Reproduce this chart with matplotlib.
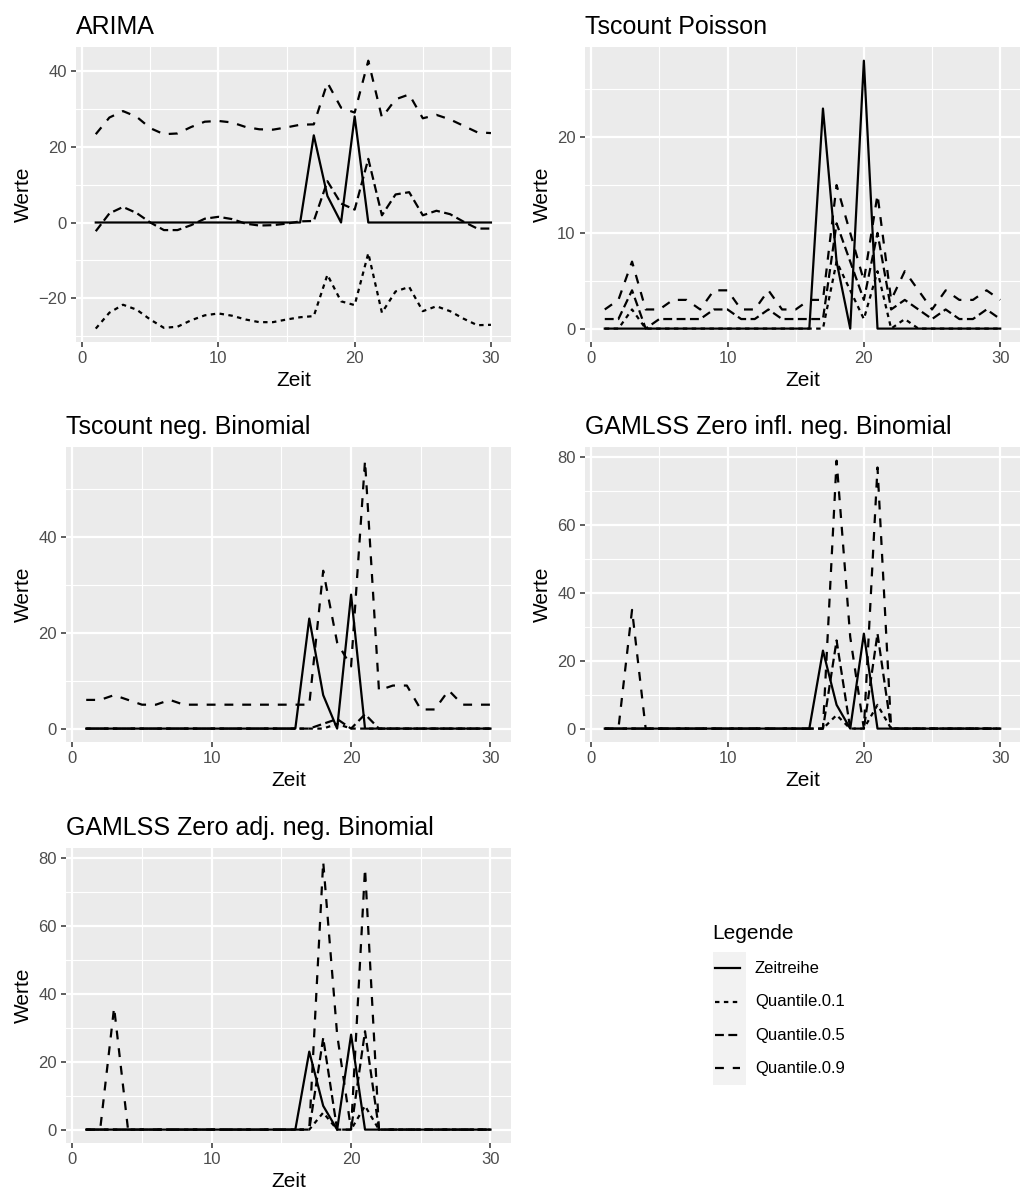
import matplotlib
matplotlib.use("Agg")
import matplotlib.pyplot as plt
from matplotlib.ticker import MultipleLocator

plt.rcParams['font.family'] = ['Liberation Sans', 'DejaVu Sans']

# Daten
zeit = list(range(1, 31))
zeitreihe = [0] * 16 + [23, 7, 0, 28] + [0] * 10

arima_q10 = [-28, -23.8, -21.7, -23, -25.6, -27.8, -27.5, -25.8, -24.5, -24,
             -24.6, -25.6, -26.3, -26.3, -25.6, -25, -24.7, -13.8, -20.8, -21.8,
             -8.1, -23.8, -18.2, -17, -23.4, -22.1, -23.4, -25.4, -27.1, -27]
arima_q50 = [-2.3, 2.4, 4.1, 2.5, 0, -2, -2, -0.7, 1, 1.5,
             0.9, -0.3, -0.8, -0.7, -0.3, 0.3, 0.4, 10.9, 5, 3.4,
             16.8, 1.9, 7.4, 8, 1.9, 3.1, 2.2, 0.2, -1.6, -1.6]
arima_q90 = [23.3, 27.7, 29.4, 27.9, 24.9, 23.3, 23.5, 25.2, 26.6, 26.8,
             26.4, 25.2, 24.6, 24.5, 25.1, 25.8, 25.9, 36.9, 30.3, 29,
             42.7, 27.7, 32.5, 33.8, 27.5, 28.4, 27.2, 25.5, 23.8, 23.6]

pois_q10 = [0, 0, 2, 0, 0, 0, 0, 0, 0, 0, 0, 0, 0, 0, 0, 0, 0, 7, 4, 1,
            6, 0, 1, 0, 0, 0, 0, 0, 0, 0]
pois_q50 = [1, 1, 4, 0, 1, 1, 1, 1, 2, 2, 1, 1, 2, 1, 1, 1, 1, 11, 7, 3,
            10, 2, 3, 2, 1, 2, 1, 1, 2, 1]
pois_q90 = [2, 3, 7, 2, 2, 3, 3, 2, 4, 4, 2, 2, 4, 2, 2, 3, 3, 15, 10, 5,
            14, 3, 6, 4, 2, 4, 3, 3, 4, 3]

nb_q10 = [0] * 18 + [1, 0] + [0] * 10
nb_q50 = [0] * 17 + [1, 2, 0, 3] + [0] * 9
nb_q90 = [6, 6, 7, 6, 5, 5, 6, 5, 5, 5, 5, 5, 5, 5, 5, 5, 5, 33, 18, 13,
          56, 8, 9, 9, 4, 4, 8, 5, 5, 5]

zinb_q10 = [0] * 17 + [4, 0, 0, 7] + [0] * 9
zinb_q50 = [0] * 17 + [26, 0, 0, 28] + [0] * 9
zinb_q90 = [0, 0, 35] + [0] * 14 + [79, 27, 0, 77] + [0] * 9

zanb_q10 = [0] * 17 + [5, 0, 0, 7] + [0] * 9
zanb_q50 = [0] * 17 + [27, 0, 0, 29] + [0] * 9
zanb_q90 = [0, 0, 36] + [0] * 14 + [79, 28, 0, 77] + [0] * 9

legende = ['Zeitreihe', 'Quantile.0.1', 'Quantile.0.5', 'Quantile.0.9']
linien = ['-', (0, (2, 2)), (0, (4, 2)), (0, (4, 4))]

W, H = 1022, 1194
LW = 1.6
fig = plt.figure(figsize=(W / 100, H / 100), dpi=100)


def rect(l, t, r, b):
    return [l / W, 1 - b / H, (r - l) / W, (b - t) / H]


panels = [
    ('ARIMA', arima_q10, arima_q50, arima_q90, 20, (76, 47.3, 510.7, 342)),
    ('Tscount Poisson', pois_q10, pois_q50, pois_q90, 10, (585, 47.3, 1020, 342)),
    ('Tscount neg. Binomial', nb_q10, nb_q50, nb_q90, 20, (66, 447.3, 510.7, 742)),
    ('GAMLSS Zero infl. neg. Binomial', zinb_q10, zinb_q50, zinb_q90, 20, (585, 447.3, 1020, 742)),
    ('GAMLSS Zero adj. neg. Binomial', zanb_q10, zanb_q50, zanb_q90, 20, (66, 848.3, 510.7, 1143)),
]

for titel, q10, q50, q90, step, box in panels:
    ax = fig.add_axes(rect(*box))
    ax.set_facecolor('#EBEBEB')
    for s in ax.spines.values():
        s.set_visible(False)
    for werte, ls in zip([zeitreihe, q10, q50, q90], linien):
        ax.plot(zeit, werte, color='black', lw=LW, linestyle=ls,
                solid_joinstyle='round', dash_joinstyle='round')
    ax.margins(x=0.05, y=0.05)
    ax.xaxis.set_major_locator(MultipleLocator(10))
    ax.xaxis.set_minor_locator(MultipleLocator(5))
    ax.yaxis.set_major_locator(MultipleLocator(step))
    ax.yaxis.set_minor_locator(MultipleLocator(step / 2))
    ax.grid(which='major', color='white', lw=1.6)
    ax.grid(which='minor', color='white', lw=0.8)
    ax.set_axisbelow(True)
    ax.tick_params(which='major', length=3.7, width=1.1, color='#333333',
                   labelsize=12, labelcolor='#4D4D4D', pad=3)
    ax.tick_params(which='minor', length=0)
    ax.set_xlabel('Zeit', fontsize=15, labelpad=3.7)
    ax.set_ylabel('Werte', fontsize=15, labelpad=3.7)
    ax.annotate(titel, xy=(0, 1), xycoords='axes fraction', xytext=(0, 9.5),
                textcoords='offset points', fontsize=18, ha='left', va='baseline')

# Legende
ax_leg = fig.add_axes(rect(712.7, 951.7, 746, 1085))
ax_leg.set_facecolor('#F2F2F2')
for s in ax_leg.spines.values():
    s.set_visible(False)
ax_leg.set_xticks([])
ax_leg.set_yticks([])
ax_leg.set_xlim(0, 1)
ax_leg.set_ylim(len(legende), 0)
for i, (name, ls) in enumerate(zip(legende, linien)):
    ax_leg.plot([0.07, 0.82], [i + 0.5, i + 0.5], color='black', lw=LW,
                linestyle=ls)
    ax_leg.text(1.27, i + 0.5, name, fontsize=12, va='center', ha='left',
                clip_on=False)
ax_leg.text(0, -0.56, 'Legende', fontsize=15, va='center', ha='left',
            clip_on=False)

fig.savefig('out.png', dpi=100)
